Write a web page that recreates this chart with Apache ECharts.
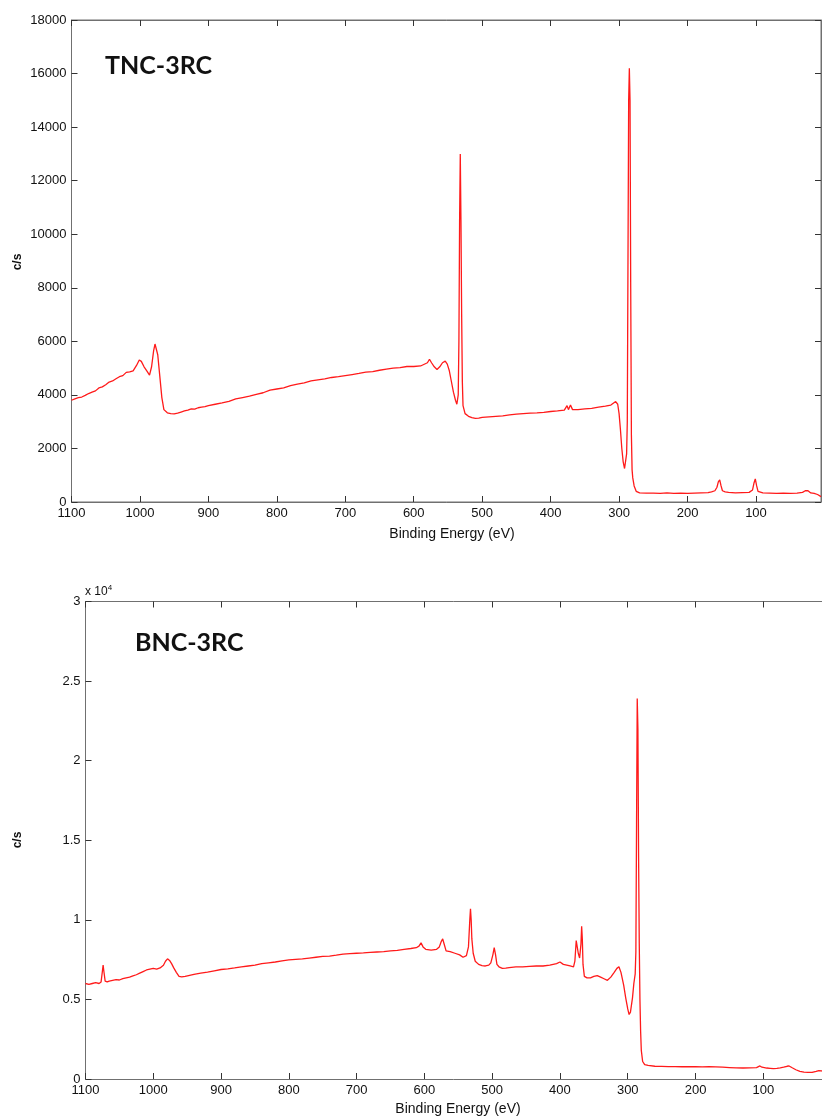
<!DOCTYPE html>
<html>
<head>
<meta charset="utf-8">
<title>XPS survey spectra</title>
<script src="https://cdn.jsdelivr.net/npm/echarts@6/dist/echarts.min.js"></script>
<style>
  html, body { margin: 0; padding: 0; background: #ffffff; }
  #chart { width: 822px; height: 1117px; }
</style>
</head>
<body>
<div id="chart"></div>
<script>
// Survey spectrum of TNC-3RC: binding energy (eV) and intensity (c/s)
const tncEnergy = [
  1100, 1095, 1090, 1085, 1080, 1075, 1070, 1065, 1060, 1055, 1050, 1045, 1040, 1035, 1030, 1025,
  1020, 1015, 1010, 1005, 1001, 998, 994, 990, 986, 983, 980, 978, 976, 974, 971, 968, 965, 960,
  955, 950, 945, 940, 935, 930, 925, 920, 915, 910, 905, 900, 890, 880, 870, 860, 850, 840, 830,
  820, 810, 800, 790, 780, 770, 760, 750, 740, 730, 720, 710, 700, 690, 680, 670, 660, 650, 640,
  630, 620, 610, 600, 590, 580, 577, 574, 570, 566, 562, 558, 554, 551, 548, 545, 542, 539, 537,
  535, 534, 533, 532, 531, 530, 529, 528, 525, 520, 515, 510, 505, 500, 490, 480, 470, 460, 450,
  440, 430, 420, 410, 400, 390, 380, 376, 374, 371, 368, 360, 350, 340, 330, 320, 312, 308, 305,
  302, 300, 298, 296, 294, 292, 290, 289, 288, 287, 286, 285, 284, 283, 282, 281, 280, 278, 275,
  270, 260, 250, 240, 230, 220, 210, 200, 190, 180, 170, 165, 160, 157, 155, 153, 151, 149, 145,
  140, 130, 120, 110, 105, 103, 101, 99, 97, 90, 80, 70, 60, 50, 40, 32, 28, 26, 24, 20, 15, 10, 5
];
const tncCounts = [
  3800, 3850, 3900, 3920, 3980, 4050, 4100, 4150, 4260, 4300, 4380, 4480, 4520, 4600, 4680, 4720,
  4840, 4860, 4900, 5100, 5300, 5250, 5050, 4900, 4740, 5050, 5650, 5900, 5850, 5500, 4700, 3900, 3450, 3330,
  3300, 3290, 3320, 3360, 3400, 3430, 3480, 3470, 3520, 3540, 3560, 3600, 3650, 3700, 3760, 3850, 3900, 3950, 4020,
  4080, 4180, 4220, 4260, 4350, 4400, 4450, 4520, 4560, 4600, 4650, 4680, 4720, 4760, 4800, 4850, 4870, 4920, 4960,
  5000, 5020, 5060, 5060, 5080, 5200, 5330, 5200, 5050, 4950, 5050, 5200, 5260, 5150, 4900, 4500, 4100, 3800, 3650,
  4000, 6000, 10500, 13000, 10500, 7000, 4500, 3600, 3300, 3200, 3150, 3120, 3130, 3160, 3180, 3200, 3220, 3250, 3280,
  3300, 3320, 3330, 3350, 3380, 3400, 3430, 3600, 3450, 3620, 3450, 3450, 3480, 3500, 3540, 3580, 3620, 3700, 3750,
  3650, 3300, 2700, 2000, 1500, 1250, 1300, 1800, 3000, 9000, 15000, 16200, 15000, 8000, 2500, 1200, 900, 600, 400,
  340, 330, 330, 320, 340, 320, 330, 320, 330, 340, 350, 380, 420, 550, 750, 830, 600, 420, 380,
  360, 340, 350, 360, 450, 700, 860, 600, 400, 340, 330, 320, 330, 320, 330, 360, 420, 480, 420, 340, 320, 280, 200
];

// Survey spectrum of BNC-3RC: binding energy (eV) and intensity (c/s)
const bncEnergy = [
  1100, 1095, 1090, 1085, 1080, 1077, 1075, 1074, 1073, 1071, 1068, 1065, 1060, 1055, 1050, 1045,
  1040, 1035, 1030, 1025, 1020, 1015, 1010, 1005, 1000, 995, 990, 985, 982, 979, 976, 973, 970,
  966, 962, 958, 953, 948, 940, 930, 920, 910, 900, 890, 880, 870, 860, 850, 840, 830, 820, 810,
  800, 790, 780, 770, 760, 750, 740, 730, 720, 710, 700, 690, 680, 670, 660, 650, 640, 630, 620,
  612, 608, 605, 602, 598, 590, 582, 578, 575, 573, 571, 568, 562, 555, 548, 543, 538, 535, 533,
  532, 531, 530, 528, 525, 520, 515, 510, 505, 502, 499, 497, 495, 493, 490, 485, 480, 475, 465,
  455, 445, 435, 425, 415, 405, 400, 395, 390, 385, 380, 378, 376, 375, 373, 371, 369, 368, 367,
  366, 364, 360, 355, 350, 345, 340, 335, 330, 325, 320, 316, 313, 310, 306, 303, 300, 298, 296,
  293, 291, 289, 288, 287, 286, 285, 284, 283, 282, 281, 280, 278, 275, 270, 260, 250, 240, 230,
  220, 210, 200, 190, 180, 170, 160, 150, 140, 130, 120, 110, 105, 102, 95, 90, 85, 80, 75, 70,
  65, 62, 58, 52, 46, 40, 34, 28, 22, 18, 14, 10, 5
];
const bncCounts = [
  6000, 5950, 6000, 6050, 6000, 6100, 6800, 7150, 6800, 6150, 6100, 6150, 6200, 6250, 6220, 6300,
  6350, 6400, 6480, 6550, 6650, 6750, 6850, 6900, 6950, 6900, 6980, 7150, 7400, 7550, 7450, 7250, 7000,
  6700, 6450, 6420, 6450, 6500, 6580, 6650, 6720, 6800, 6880, 6920, 6980, 7050, 7100, 7150, 7250, 7300, 7350, 7420,
  7480, 7520, 7550, 7600, 7650, 7700, 7720, 7780, 7850, 7880, 7900, 7920, 7960, 7980, 8000, 8050, 8080, 8150, 8200,
  8250, 8350, 8550, 8300, 8150, 8100, 8150, 8300, 8650, 8800, 8500, 8050, 8000, 7900, 7800, 7650, 7750, 8300, 10000,
  10700, 10000, 8800, 7900, 7400, 7200, 7120, 7100, 7150, 7300, 7800, 8250, 7800, 7200, 7050, 6950, 6960, 7000, 7050,
  7050, 7080, 7100, 7100, 7150, 7250, 7350, 7200, 7150, 7100, 7050, 7400, 8700, 8800, 7900, 7600, 8500, 9600, 8800,
  7200, 6450, 6350, 6350, 6450, 6500, 6400, 6300, 6200, 6400, 6700, 6950, 7050, 6700, 5900, 5100, 4400, 4050, 4200,
  5100, 6000, 6600, 8000, 16000, 23900, 22000, 14000, 8500, 5000, 3000, 1800, 1100, 900, 850, 800, 790, 780, 780,
  770, 780, 770, 760, 770, 760, 740, 720, 700, 690, 700, 720, 820, 740, 690, 670, 650, 670, 700, 740,
  800, 820, 720, 580, 480, 430, 410, 420, 480, 530, 510, 460, 430
];

// Tick positions along the energy axis and along each intensity axis
const energyTicks = [1100, 1000, 900, 800, 700, 600, 500, 400, 300, 200, 100];
const tncTickStep = 2000;
const bncTickStep = 5000;

const toPairs = (xs, ys) => xs.map((x, i) => [x, ys[i]]);

const FONT = '"Liberation Sans", Arial, sans-serif';
const AXIS_COLOR = '#707070';
const AXIS_LINE = { lineStyle: { color: AXIS_COLOR, width: 1 } };
const TICK = { inside: true, length: 6, lineStyle: { color: '#333333', width: 1 } };
const LABEL = { color: '#111111', fontFamily: FONT, fontSize: 13 };
const plain = v => String(v);

function energyAxis(gridIndex, position, showLabels, lowEnd) {
  return {
    type: 'value', gridIndex, position, inverse: true, min: lowEnd, max: 1100,
    axisLine: Object.assign({ show: true, onZero: false }, AXIS_LINE),
    axisTick: Object.assign({ show: true, customValues: energyTicks }, TICK),
    axisLabel: Object.assign({ show: showLabels, customValues: energyTicks, margin: 5, formatter: plain }, LABEL),
    splitLine: { show: false }
  };
}

function countAxis(gridIndex, position, max, step, showLabels, formatter) {
  return {
    type: 'value', gridIndex, position, min: 0, max, interval: step,
    axisLine: Object.assign({ show: true, onZero: false }, AXIS_LINE),
    axisTick: Object.assign({ show: true }, TICK),
    axisLabel: Object.assign({ show: showLabels, margin: 5, formatter: formatter || plain }, LABEL),
    splitLine: { show: false }
  };
}

const chart = echarts.init(document.getElementById('chart'), null, { renderer: 'canvas' });

chart.setOption({
  animation: false,
  backgroundColor: '#ffffff',
  grid: [
    { left: 71.5, top: 20, width: 749.5, height: 482, show: true, borderColor: AXIS_COLOR, borderWidth: 1, backgroundColor: 'transparent' },
    { left: 85.5, top: 601.5, width: 736.5, height: 477.5 }
  ],
  xAxis: [
    energyAxis(0, 'bottom', true, 5),
    energyAxis(0, 'top', false, 5),
    energyAxis(1, 'bottom', true, 13.4),
    energyAxis(1, 'top', false, 13.4)
  ],
  yAxis: [
    countAxis(0, 'left', 18000, tncTickStep, true),
    countAxis(0, 'right', 18000, tncTickStep, false),
    countAxis(1, 'left', 30000, bncTickStep, true, v => String(v / 10000))
  ],
  series: [
    {
      name: 'TNC-3RC', type: 'line', xAxisIndex: 0, yAxisIndex: 0,
      data: toPairs(tncEnergy, tncCounts), showSymbol: false, smooth: false, clip: true,
      lineStyle: { color: '#ff1a1a', width: 1.3 }
    },
    {
      name: 'BNC-3RC', type: 'line', xAxisIndex: 2, yAxisIndex: 2,
      data: toPairs(bncEnergy, bncCounts), showSymbol: false, smooth: false, clip: true,
      lineStyle: { color: '#ff1a1a', width: 1.3 }
    }
  ],
  graphic: [
    { type: 'text', left: 105, top: 53,
      style: { text: 'TNC-3RC', font: 'bold 25px Lato, "Open Sans", sans-serif', fill: '#111111' } },
    { type: 'text', left: 135, top: 630,
      style: { text: 'BNC-3RC', font: 'bold 25px Lato, "Open Sans", sans-serif', fill: '#111111' } },
    { type: 'text', x: 18, y: 262, rotation: Math.PI / 2,
      style: { text: 'c/s', font: 'bold 12px ' + FONT, fill: '#111111', align: 'center', verticalAlign: 'middle' } },
    { type: 'text', x: 18, y: 840, rotation: Math.PI / 2,
      style: { text: 'c/s', font: 'bold 12px ' + FONT, fill: '#111111', align: 'center', verticalAlign: 'middle' } },
    { type: 'text', x: 452, y: 534,
      style: { text: 'Binding Energy (eV)', font: '14px ' + FONT, fill: '#111111', align: 'center', verticalAlign: 'middle' } },
    { type: 'text', x: 458, y: 1109,
      style: { text: 'Binding Energy (eV)', font: '14px ' + FONT, fill: '#111111', align: 'center', verticalAlign: 'middle' } },
    { type: 'text', x: 85, y: 584,
      style: {
        text: '{b|x 10}{s|4}', fill: '#111111',
        rich: {
          b: { fontFamily: FONT, fontSize: 12, fill: '#111111', verticalAlign: 'bottom' },
          s: { fontFamily: FONT, fontSize: 8, fill: '#111111', verticalAlign: 'top', padding: [0, 0, 6, 0] }
        }
      } }
  ]
});
</script>
</body>
</html>
